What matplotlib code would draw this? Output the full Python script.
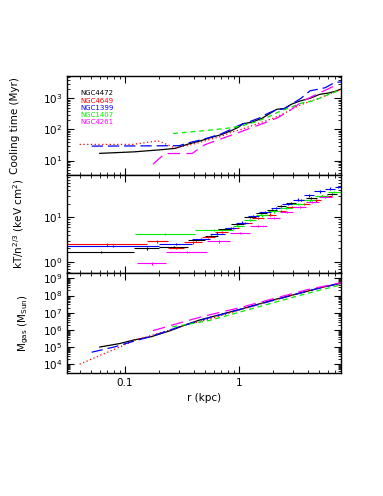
import matplotlib
matplotlib.use("Agg")
import matplotlib.pyplot as plt
import numpy as np

#================
# Data
#================

names = ["NGC4472", "NGC4649", "NGC1399", "NGC1407", "NGC4261"]
colors = ["#000000", "#ff0000", "#0000ff", "#00ee00", "#ff00ff"]
styles = ["-", (0, (1, 2)), (0, (9, 4)), (0, (4, 3)), (0, (10, 5))]

# cooling time (Myr)
tc_r = [
    [0.06, 0.12, 0.2, 0.275, 0.35, 0.45, 0.56, 0.7, 0.85, 1.0, 1.08, 1.3, 1.6, 2.15, 2.5, 2.9, 3.43, 4.2, 5.1, 6.2, 7.2, 7.9],
    [0.04, 0.117, 0.195, 0.275, 0.35, 0.45, 0.56, 0.7, 0.85, 1.0, 1.25, 1.53, 2.0, 2.5, 3.0, 3.5, 4.2, 5.0, 6.0, 7.0, 7.9],
    [0.051, 0.3, 0.35, 0.45, 0.56, 0.7, 0.85, 1.0, 1.2, 1.5, 1.8, 2.1, 2.5, 3.0, 3.5, 4.2, 5.7, 6.9, 7.9],
    [0.264, 0.4, 0.557, 0.89, 1.1, 1.4, 1.8, 2.15, 2.7, 3.6, 4.3, 5.1, 6.0, 7.0, 7.9],
    [0.176, 0.224, 0.387, 0.5, 0.7, 1.0, 1.3, 1.7, 2.2, 2.9, 3.6, 4.5, 5.5, 6.7],
]
tc_t = [
    [17, 19, 22, 24.5, 33, 42, 54, 68, 90, 120, 152, 170, 230, 445, 470, 650, 820, 1000, 1340, 1500, 1730, 2000],
    [33, 33, 43, 25.5, 30, 38, 48, 60, 80, 95, 125, 163, 230, 330, 480, 620, 800, 1000, 1300, 1650, 1900],
    [29, 30, 36, 45, 56, 72, 100, 135, 170, 230, 330, 420, 460, 700, 1000, 1740, 2190, 3200, 3400],
    [74, 85, 95, 115, 135, 175, 250, 345, 480, 720, 800, 1000, 1300, 1600, 1950],
    [7.6, 16.8, 16.8, 32, 50, 80, 115, 165, 240, 445, 800, 1200, 1700, 2400],
]

# entropy kT/n^(2/3): bin edges (kpc) and values
k_edges = [
    [0.031, 0.12, 0.20, 0.36, 0.50, 0.66, 0.85, 1.1, 1.4, 1.75, 2.15, 2.6, 3.2, 3.9, 4.8, 5.9, 7.2],
    [0.031, 0.155, 0.24, 0.33, 0.47, 0.62, 0.8, 1.0, 1.3, 1.65, 2.1, 2.6, 3.3, 4.2, 5.3, 6.6],
    [0.031, 0.2, 0.39, 0.56, 0.75, 0.95, 1.2, 1.5, 1.9, 2.4, 3.0, 3.7, 4.6, 5.7, 7.0, 7.9],
    [0.123, 0.41, 0.89, 1.1, 1.4, 1.8, 2.3, 2.9, 3.7, 4.7, 6.0, 7.9],
    [0.128, 0.23, 0.53, 0.83, 1.25, 1.76, 2.3, 3.0, 3.9, 5.0, 6.5],
]
k_vals = [
    [1.68, 2.0, 2.18, 3.1, 3.85, 5.4, 7.1, 10.3, 12.5, 14.6, 18, 21.3, 24.5, 27, 30, 33],
    [2.45, 2.88, 2.07, 2.73, 3.6, 4.7, 5.8, 7.5, 9.5, 11.5, 14, 17, 20, 24, 30],
    [2.29, 2.55, 3.24, 4.3, 5.6, 7.6, 10.5, 13, 16, 20, 25, 31, 38, 44, 48],
    [4.27, 5.2, 6.4, 8.8, 11, 13.5, 16.5, 20, 24, 30, 37],
    [0.92, 1.68, 2.88, 4.5, 6.4, 9.5, 13, 17, 22, 29],
]

# gas mass (Msun)
mg_r = [
    [0.06, 0.09, 0.12, 0.17, 0.25, 0.35, 0.455, 0.7, 1.0, 1.5, 2.0, 3.0, 4.0, 5.5, 7.9],
    [0.04, 0.06, 0.09, 0.12, 0.2, 0.35, 0.6, 1.0, 2.0, 4.0, 7.9],
    [0.051, 0.08, 0.12, 0.17, 0.3, 0.5, 1.0, 2.0, 4.0, 7.9],
    [0.26, 0.4, 0.557, 1.0, 2.0, 4.0, 7.9],
    [0.176, 0.3, 0.47, 1.0, 2.0, 4.0, 7.9],
]
mg_m = [
    [1e5, 1.6e5, 2.6e5, 4e5, 9e5, 2.1e6, 3.8e6, 8e6, 1.5e7, 3.2e7, 5.5e7, 1.1e8, 1.8e8, 3.1e8, 5.1e8],
    [1e4, 3.2e4, 1e5, 2.4e5, 6.5e5, 2e6, 5e6, 1.4e7, 5.2e7, 1.8e8, 5.5e8],
    [5e4, 1e5, 2.2e5, 4.2e5, 1.5e6, 4.3e6, 1.5e7, 5.2e7, 1.8e8, 5.5e8],
    [1.5e6, 2.4e6, 3.6e6, 1.05e7, 3.8e7, 1.35e8, 4.2e8],
    [9e5, 2.5e6, 5.8e6, 1.9e7, 6.5e7, 2.2e8, 5.6e8],
]

#================
# Plot
#================

fig = plt.figure(figsize=(3.83, 4.96), dpi=100)

left, width = 0.175, 0.715
ax1 = fig.add_axes([left, 0.647, width, 0.1996])
ax2 = fig.add_axes([left, 0.4496, width, 0.1976])
ax3 = fig.add_axes([left, 0.248, width, 0.2016])

fs = 7.5

for ax in (ax1, ax2, ax3):
    ax.set_xscale("log")
    ax.set_yscale("log")
    ax.set_xlim(0.031, 7.85)
    ax.tick_params(which="both", direction="in", top=True, right=True, labelsize=fs)
    ax.tick_params(which="major", length=5, width=0.8)
    ax.tick_params(which="minor", length=2.5, width=0.6)
    for s in ax.spines.values():
        s.set_linewidth(1.0)

# cooling time
for i in range(5):
    ax1.plot(tc_r[i], tc_t[i], color=colors[i], linestyle=styles[i], lw=0.9)
ax1.set_ylim(3.4, 5200)
ax1.set_ylabel("Cooling time (Myr)", fontsize=fs)
ax1.yaxis.set_label_coords(-0.17, 0.5)
ax1.tick_params(labelbottom=False)
for i in range(5):
    ax1.text(0.048, 0.825 - i * 0.073, names[i], color=colors[i], fontsize=5.0,
             transform=ax1.transAxes, va="center", ha="left")

# entropy
for i in range(5):
    e = np.array(k_edges[i])
    lo, hi = e[:-1], e[1:]
    c = np.sqrt(lo * hi)
    k = np.array(k_vals[i])
    ax2.errorbar(c, k, xerr=[c - lo, hi - c], yerr=0.06 * k, fmt="none",
                 ecolor=colors[i], elinewidth=0.8, capsize=0)
ax2.set_ylim(0.56, 89)
ax2.set_ylabel(r"kT/n$^{2/3}$ (keV cm$^{2}$)", fontsize=fs)
ax2.yaxis.set_label_coords(-0.15, 0.5)
ax2.tick_params(labelbottom=False)

# gas mass
for i in range(5):
    ax3.plot(mg_r[i], mg_m[i], color=colors[i], linestyle=styles[i], lw=0.9)
ax3.set_ylim(10**3.49, 10**9.31)
ax3.set_yticks([1e4, 1e5, 1e6, 1e7, 1e8, 1e9])
ax3.yaxis.set_minor_locator(matplotlib.ticker.LogLocator(base=10, subs=np.arange(2, 10), numticks=20))
ax3.yaxis.set_minor_formatter(matplotlib.ticker.NullFormatter())
ax3.set_ylabel(r"M$_{\rm gas}$ (M$_{\rm Sun}$)", fontsize=fs)
ax3.yaxis.set_label_coords(-0.13, 0.5)
ax3.set_xlabel("r (kpc)", fontsize=fs)
ax3.set_xticks([0.1, 1])
ax3.set_xticklabels(["0.1", "1"])

fig.savefig("out.png", dpi=100)
